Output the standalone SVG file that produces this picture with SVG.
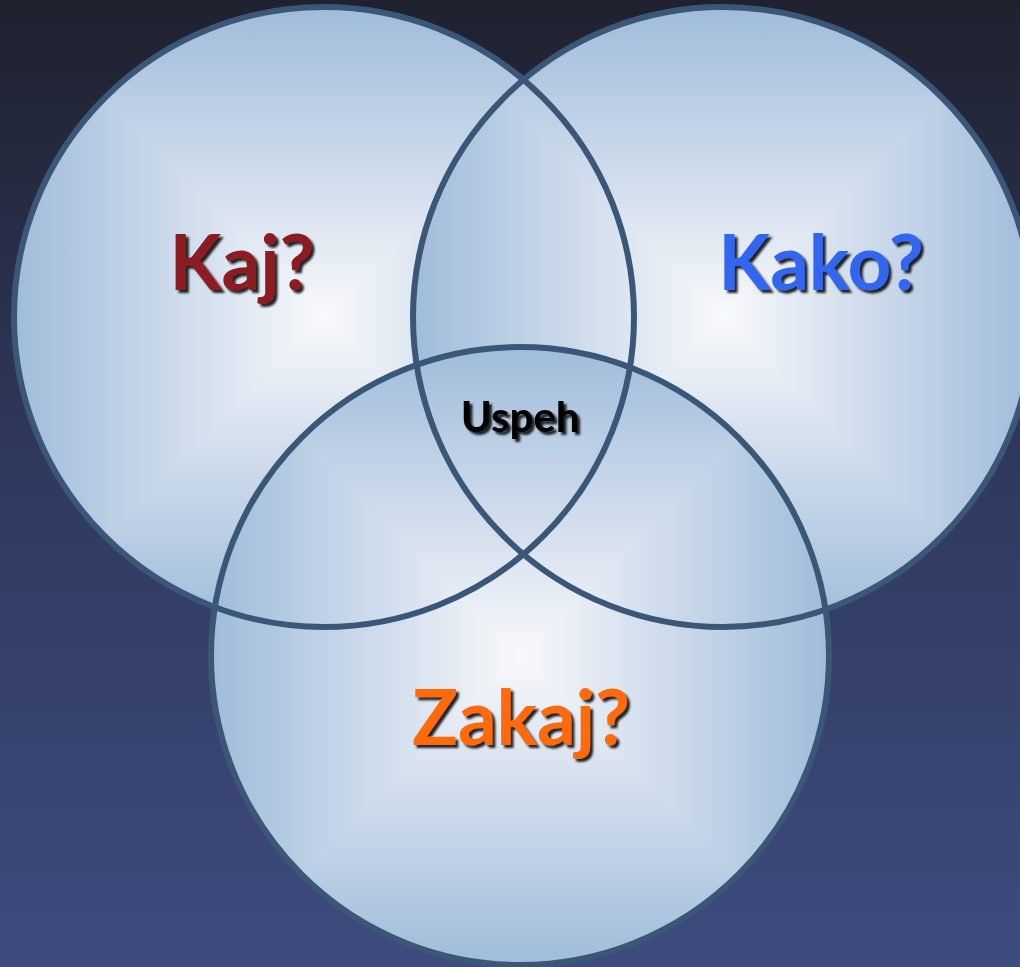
<svg xmlns="http://www.w3.org/2000/svg" width="1020" height="967" viewBox="0 0 1020 967">
  <defs>
    <linearGradient id="bg" x1="0" y1="0" x2="0" y2="1">
      <stop offset="0" stop-color="#1f212e"/>
      <stop offset="0.5" stop-color="#303a60"/>
      <stop offset="1" stop-color="#3e4b7e"/>
    </linearGradient>
    <linearGradient id="gH" x1="0" y1="0" x2="1" y2="0">
      <stop offset="0" stop-color="#a0bcda"/>
      <stop offset="0.27" stop-color="#cfdcec"/>
      <stop offset="0.5" stop-color="#f8f9fb"/>
      <stop offset="0.73" stop-color="#cfdcec"/>
      <stop offset="1" stop-color="#a0bcda"/>
    </linearGradient>
    <linearGradient id="gT" x1="0" y1="0" x2="0" y2="1">
      <stop offset="0" stop-color="#a0bcda"/>
      <stop offset="0.54" stop-color="#cfdcec"/>
      <stop offset="1" stop-color="#f8f9fb"/>
    </linearGradient>
    <linearGradient id="gB" x1="0" y1="1" x2="0" y2="0">
      <stop offset="0" stop-color="#a0bcda"/>
      <stop offset="0.54" stop-color="#cfdcec"/>
      <stop offset="1" stop-color="#f8f9fb"/>
    </linearGradient>
    <clipPath id="c1"><circle cx="324" cy="317" r="310"/></clipPath>
    <clipPath id="c2"><circle cx="723" cy="317" r="310"/></clipPath>
    <clipPath id="c3"><circle cx="520" cy="656" r="309"/></clipPath>
    <filter id="shadow" x="-20%" y="-30%" width="140%" height="160%">
      <feDropShadow dx="3" dy="3" stdDeviation="0.8" flood-color="#000" flood-opacity="0.85"/>
    </filter>
    <style>
      .outline { fill: none; stroke: #3b5778; stroke-width: 6; }
      .label { font-family: Lato, "Open Sans", "Liberation Sans", sans-serif; font-weight: 700; text-anchor: middle; filter: url(#shadow); }
    </style>
  </defs>

  <rect x="0" y="0" width="1020" height="967" fill="url(#bg)"/>

  <g id="node-kaj">
    <g clip-path="url(#c1)">
      <rect x="14" y="7" width="620" height="620" fill="url(#gH)"/>
      <polygon points="14,7 634,7 324,317" fill="url(#gT)"/>
      <polygon points="14,627 634,627 324,317" fill="url(#gB)"/>
    </g>
  </g>
  <g id="node-kako">
    <g clip-path="url(#c2)">
      <rect x="413" y="7" width="620" height="620" fill="url(#gH)"/>
      <polygon points="413,7 1033,7 723,317" fill="url(#gT)"/>
      <polygon points="413,627 1033,627 723,317" fill="url(#gB)"/>
    </g>
  </g>
  <g id="node-zakaj">
    <g clip-path="url(#c3)">
      <rect x="211" y="347" width="618" height="618" fill="url(#gH)"/>
      <polygon points="211,347 829,347 520,656" fill="url(#gT)"/>
      <polygon points="211,965 829,965 520,656" fill="url(#gB)"/>
    </g>
  </g>

  <g id="outlines">
    <circle class="outline" cx="324" cy="317" r="310"/>
    <circle class="outline" cx="723" cy="317" r="310"/>
    <circle class="outline" cx="520" cy="656" r="309"/>
  </g>

  <g id="labels">
    <text id="label-kaj" class="label" x="242" y="290" font-size="76" fill="#8b1c22">Kaj?</text>
    <text id="label-kako" class="label" x="821" y="290" font-size="76" fill="#3366ee">Kako?</text>
    <text id="label-zakaj" class="label" x="521" y="745" font-size="76" fill="#ff6a0a">Zakaj?</text>
    <text id="label-uspeh" class="label" x="520" y="432" font-size="42" fill="#000000">Uspeh</text>
  </g>
</svg>
